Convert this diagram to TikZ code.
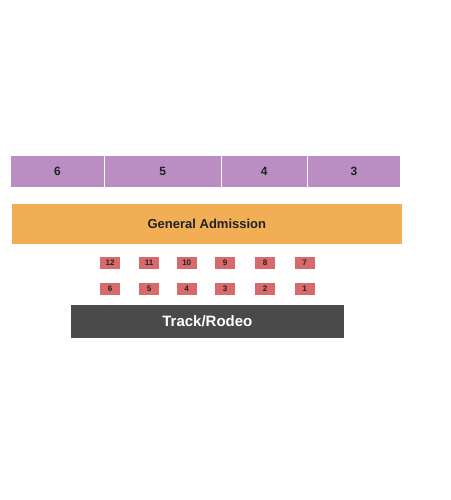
\documentclass[tikz,border=0pt]{standalone}
\usepackage{fontspec}
\setmainfont{Liberation Sans}
\definecolor{purp}{HTML}{BB8EC3}
\definecolor{ga}{HTML}{F2AE55}
\definecolor{sec}{HTML}{D96A6B}
\definecolor{track}{HTML}{4A4A4A}
\definecolor{txt}{HTML}{222222}
\begin{document}
\begin{tikzpicture}[x=1pt,y=-1pt,
  upper/.style={fill=purp,draw=white,line width=0.8pt,inner sep=0pt,text=txt,font=\fontsize{12}{12}\selectfont\bfseries},
  gabox/.style={fill=ga,draw=none,inner sep=0pt,text=txt,font=\fontsize{13}{13}\selectfont\bfseries},
  small/.style={fill=sec,draw=none,minimum width=20pt,minimum height=12pt,inner sep=0pt,text=txt,font=\fontsize{8}{8}\selectfont\bfseries},
  trackbox/.style={fill=track,draw=none,inner sep=0pt,text=white,font=\fontsize{15}{15}\selectfont\bfseries}]
\useasboundingbox (0,0) rectangle (450,500);
% upper sections
\node[upper,minimum width=93.6pt,minimum height=31.3pt] (u6) at (57.5,171.35) {6};
\node[upper,minimum width=116.7pt,minimum height=31.3pt] (u5) at (162.65,171.35) {5};
\node[upper,minimum width=86.3pt,minimum height=31.3pt] (u4) at (264.15,171.35) {4};
\node[upper,minimum width=93.4pt,minimum height=31.3pt] (u3) at (354,171.35) {3};
% general admission
\node[gabox,minimum width=390.3pt,minimum height=40.6pt] (ga) at (206.85,224) {General Admission};
% small sections
\node[small] (s12) at (110,262.8) {12};
\node[small] (s11) at (149,262.8) {11};
\node[small] (s10) at (186.7,262.8) {10};
\node[small] (s9) at (225,262.8) {9};
\node[small] (s8) at (265,262.8) {8};
\node[small] (s7) at (304.6,262.8) {7};
\node[small] (s6) at (110,288.8) {6};
\node[small] (s5) at (149,288.8) {5};
\node[small] (s4) at (186.7,288.8) {4};
\node[small] (s3) at (225,288.8) {3};
\node[small] (s2) at (265,288.8) {2};
\node[small] (s1) at (304.6,288.8) {1};
% track
\node[trackbox,minimum width=272.7pt,minimum height=33.3pt] (tr) at (207.35,321.65) {Track/Rodeo};
\end{tikzpicture}
\end{document}
